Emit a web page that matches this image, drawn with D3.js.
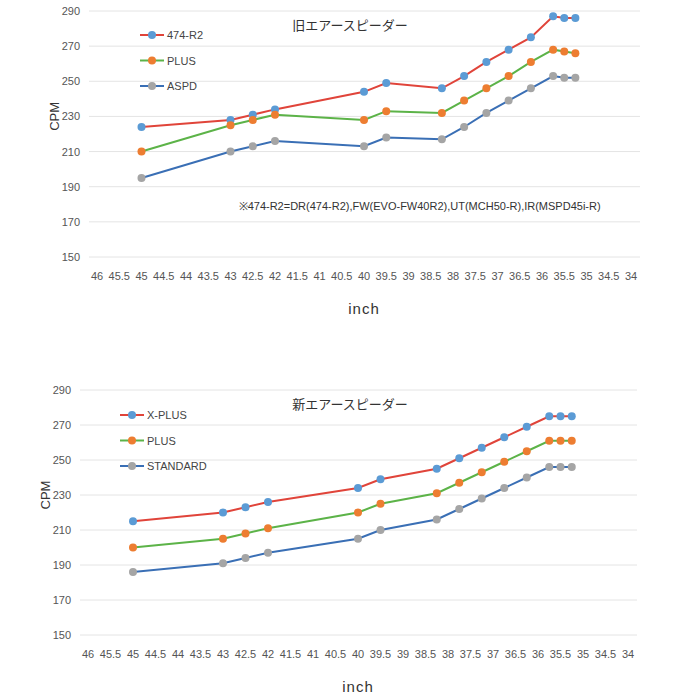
<!DOCTYPE html>
<html><head><meta charset="utf-8">
<script src="https://cdn.jsdelivr.net/npm/d3@7"></script>
<style>body{margin:0;background:#fff}</style>
</head><body><svg id="c" width="700" height="700"></svg>
<script>
const inches = [45, 43, 42.5, 42, 40, 39.5, 38.25, 37.75, 37.25, 36.75, 36.25, 35.75, 35.5, 35.25]
const xTicks = d3.range(46, 33.9, -0.5)
const yTicks = [150, 170, 190, 210, 230, 250, 270, 290]

const oldNames = ['474-R2', 'PLUS', 'ASPD']
const old474 = [224, 228, 231, 234, 244, 249, 246, 253, 261, 268, 275, 287, 286, 286]
const oldPlus = [210, 225, 228, 231, 228, 233, 232, 239, 246, 253, 261, 268, 267, 266]
const oldAspd = [195, 210, 213, 216, 213, 218, 217, 224, 232, 239, 246, 253, 252, 252]

const newNames = ['X-PLUS', 'PLUS', 'STANDARD']
const newXPlus = [215, 220, 223, 226, 234, 239, 245, 251, 257, 263, 269, 275, 275, 275]
const newPlus = [200, 205, 208, 211, 220, 225, 231, 237, 243, 249, 255, 261, 261, 261]
const newStd = [186, 191, 194, 197, 205, 210, 216, 222, 228, 234, 240, 246, 246, 246]

const lineColors = ['#e0443a', '#5cb348', '#3a6fb5']
const dotColors = ['#5b9bd5', '#ed7d31', '#a5a5a5']

const svg = d3.select('#c')

function drawChart (cfg) {
  const x = d3.scaleLinear().domain([46, 34]).range([cfg.x0, cfg.x1])
  const y = d3.scaleLinear().domain([150, 290]).range([cfg.yb, cfg.yt])
  const g = svg.append('g').attr('font-family', 'Liberation Sans Narrow, Liberation Sans, sans-serif')

  g.selectAll('.grid').data(yTicks).enter().append('line')
    .attr('x1', cfg.x0 - 8).attr('x2', cfg.x1 + 9)
    .attr('y1', d => y(d)).attr('y2', d => y(d))
    .attr('stroke', '#e4e4e4')
  g.selectAll('.yl').data(yTicks).enter().append('text')
    .attr('x', cfg.x0 - 17).attr('y', d => y(d) + 4)
    .attr('text-anchor', 'end').attr('font-size', 11).attr('fill', '#555')
    .text(d => d)
  g.selectAll('.xl').data(xTicks).enter().append('text')
    .attr('x', d => x(d)).attr('y', cfg.yb + 23)
    .attr('text-anchor', 'middle').attr('font-size', 11).attr('fill', '#555')
    .text(d => d)
  g.append('text').attr('x', (cfg.x0 + cfg.x1) / 2).attr('y', cfg.yb + 57)
    .attr('text-anchor', 'middle').attr('font-size', 15).attr('fill', '#333')
    .attr('letter-spacing', 1).text('inch')
  g.append('text').attr('transform', `translate(${cfg.x0 - 38},${y(230)}) rotate(-90)`)
    .attr('text-anchor', 'middle').attr('font-size', 13).attr('fill', '#333')
    .text('CPM')
  g.append('text').attr('x', 350).attr('y', y(279))
    .attr('text-anchor', 'middle').attr('font-size', 13).attr('fill', '#333')
    .attr('font-family', 'Noto Sans CJK JP').text(cfg.title)

  const line = d3.line().x((d, i) => x(inches[i])).y(d => y(d))
  cfg.series.forEach((s, k) => {
    g.append('path').datum(s).attr('d', line).attr('fill', 'none')
      .attr('stroke', lineColors[k]).attr('stroke-width', 2)
    g.selectAll('.d' + k).data(s).enter().append('circle')
      .attr('cx', (d, i) => x(inches[i])).attr('cy', d => y(d)).attr('r', 4)
      .attr('fill', dotColors[k])
    const ly = cfg.legY + k * 25.5
    g.append('line').attr('x1', cfg.legX).attr('x2', cfg.legX + 24)
      .attr('y1', ly).attr('y2', ly).attr('stroke', lineColors[k]).attr('stroke-width', 2)
    g.append('circle').attr('cx', cfg.legX + 12).attr('cy', ly).attr('r', 4).attr('fill', dotColors[k])
    g.append('text').attr('x', cfg.legX + 27).attr('y', ly + 4)
      .attr('font-size', 11).attr('fill', '#444').text(cfg.names[k])
  })
  if (cfg.note) {
    g.append('text').attr('x', x(38.75)).attr('y', y(177))
      .attr('text-anchor', 'middle').attr('font-size', 11).attr('fill', '#333')
      .text(cfg.note)
  }
}

drawChart({
  x0: 97, x1: 631, yt: 11, yb: 257, legX: 140, legY: 35,
  title: '旧エアースピーダー', names: oldNames, series: [old474, oldPlus, oldAspd],
  note: '※474-R2=DR(474-R2),FW(EVO-FW40R2),UT(MCH50-R),IR(MSPD45i-R)'
})
drawChart({
  x0: 88, x1: 628, yt: 390, yb: 635, legX: 120, legY: 415,
  title: '新エアースピーダー', names: newNames, series: [newXPlus, newPlus, newStd]
})
</script></body></html>
